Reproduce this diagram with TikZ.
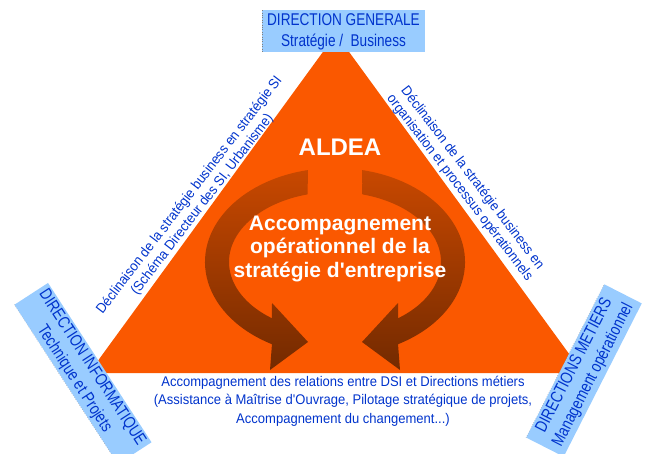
\documentclass[tikz,border=0pt]{standalone}
\usepackage{fontspec}
\setmainfont{Liberation Sans}
\newfontfamily\boxfont{Liberation Sans}[FakeStretch=0.8]
\newfontfamily\labelfont{Liberation Sans}[FakeStretch=0.93]
\usetikzlibrary{calc}
\definecolor{aldeaorange}{RGB}{250,88,0}
\definecolor{boxblue}{RGB}{153,204,255}
\definecolor{textblue}{RGB}{0,51,204}
\definecolor{ringtop}{RGB}{200,72,0}
\definecolor{ringmid}{RGB}{240,98,18}
\definecolor{ringbot}{RGB}{115,42,0}

\begin{document}
\begin{tikzpicture}[x=1pt,y=1pt,yscale=-1,
  dirbox/.style={fill=boxblue, text=textblue, align=center, inner sep=0pt,
    font=\boxfont\fontsize{17}{21}\selectfont},
  sidetext/.style={text=textblue, align=center, inner sep=0pt,
    font=\labelfont\fontsize{14}{16}\selectfont},
  whitetext/.style={text=white, align=center, inner sep=0pt,
    font=\bfseries\fontsize{21}{23.5}\selectfont},
  ringarrow/.style={top color=ringtop, middle color=ringmid, bottom color=ringbot}
]
\useasboundingbox (0,0) rectangle (653,454);

%Triangle
\fill [aldeaorange, rounded corners=18] (336,34) -- (583,373) -- (89,373) -- cycle;

%Circular arrows
\coordinate (ring) at (335,262);
\shade [ringarrow] (ring) ++(258:130 and 94)
  arc [start angle=258, end angle=119, x radius=130, y radius=94]
  -- (270,370) -- (308,342) -- (272,303)
  -- ($(ring)+(126.5:106 and 70)$)
  arc [start angle=126.5, end angle=255, x radius=106, y radius=70] -- cycle;
\shade [ringarrow] (ring) ++(-78:130 and 94)
  arc [start angle=-78, end angle=61, x radius=130, y radius=94]
  -- (400,370) -- (362,342) -- (398,303)
  -- ($(ring)+(53.5:106 and 70)$)
  arc [start angle=53.5, end angle=-75, x radius=106, y radius=70] -- cycle;

% Text Node
\node (aldea) [whitetext, font=\bfseries\fontsize{24}{28}\selectfont] at (340,147) {ALDEA};
% Text Node
\node (mission) [whitetext] at (340,249) {Accompagnement\\opérationnel de la\\stratégie d\textquotesingle entreprise};

% Direction boxes
\node (dg) [dirbox, minimum width=163, minimum height=42] at (343.5,31.5)
  {DIRECTION GENERALE\\Stratégie /~ Business};
\node (dsi) [dirbox, minimum width=190, minimum height=40, rotate=-57] at (83,373.5)
  {DIRECTION INFORMATIQUE\\Technique et Projets};
\node (dm) [dirbox, minimum width=172, minimum height=42, rotate=63] at (584,370.5)
  {DIRECTIONS METIERS\\Management opérationnel};
\draw [gray, dotted] (dg.north west) -- (dg.south west);
\draw [gray, dotted] (dsi.south west) -- (dsi.south east);
\draw [gray, dotted] (dm.north west) -- (dm.north east);

% Side labels
\node (leftlabel) [sidetext, rotate=52.5] at (196,200)
  {Déclinaison de la stratégie business en stratégie SI\\(Schéma Directeur des SI, Urbanisme)};
\node (rightlabel) [sidetext, rotate=-52.5] at (466,183)
  {Déclinaison de la stratégie business en\\organisation et processus opérationnels};
\node (bottomlabel) [sidetext, font=\labelfont\fontsize{14}{18.5}\selectfont] at (343,401)
  {Accompagnement des relations entre DSI et Directions métiers\\(Assistance à Maîtrise d\textquotesingle Ouvrage, Pilotage stratégique de projets,\\Accompagnement du changement...)};

\end{tikzpicture}
\end{document}
